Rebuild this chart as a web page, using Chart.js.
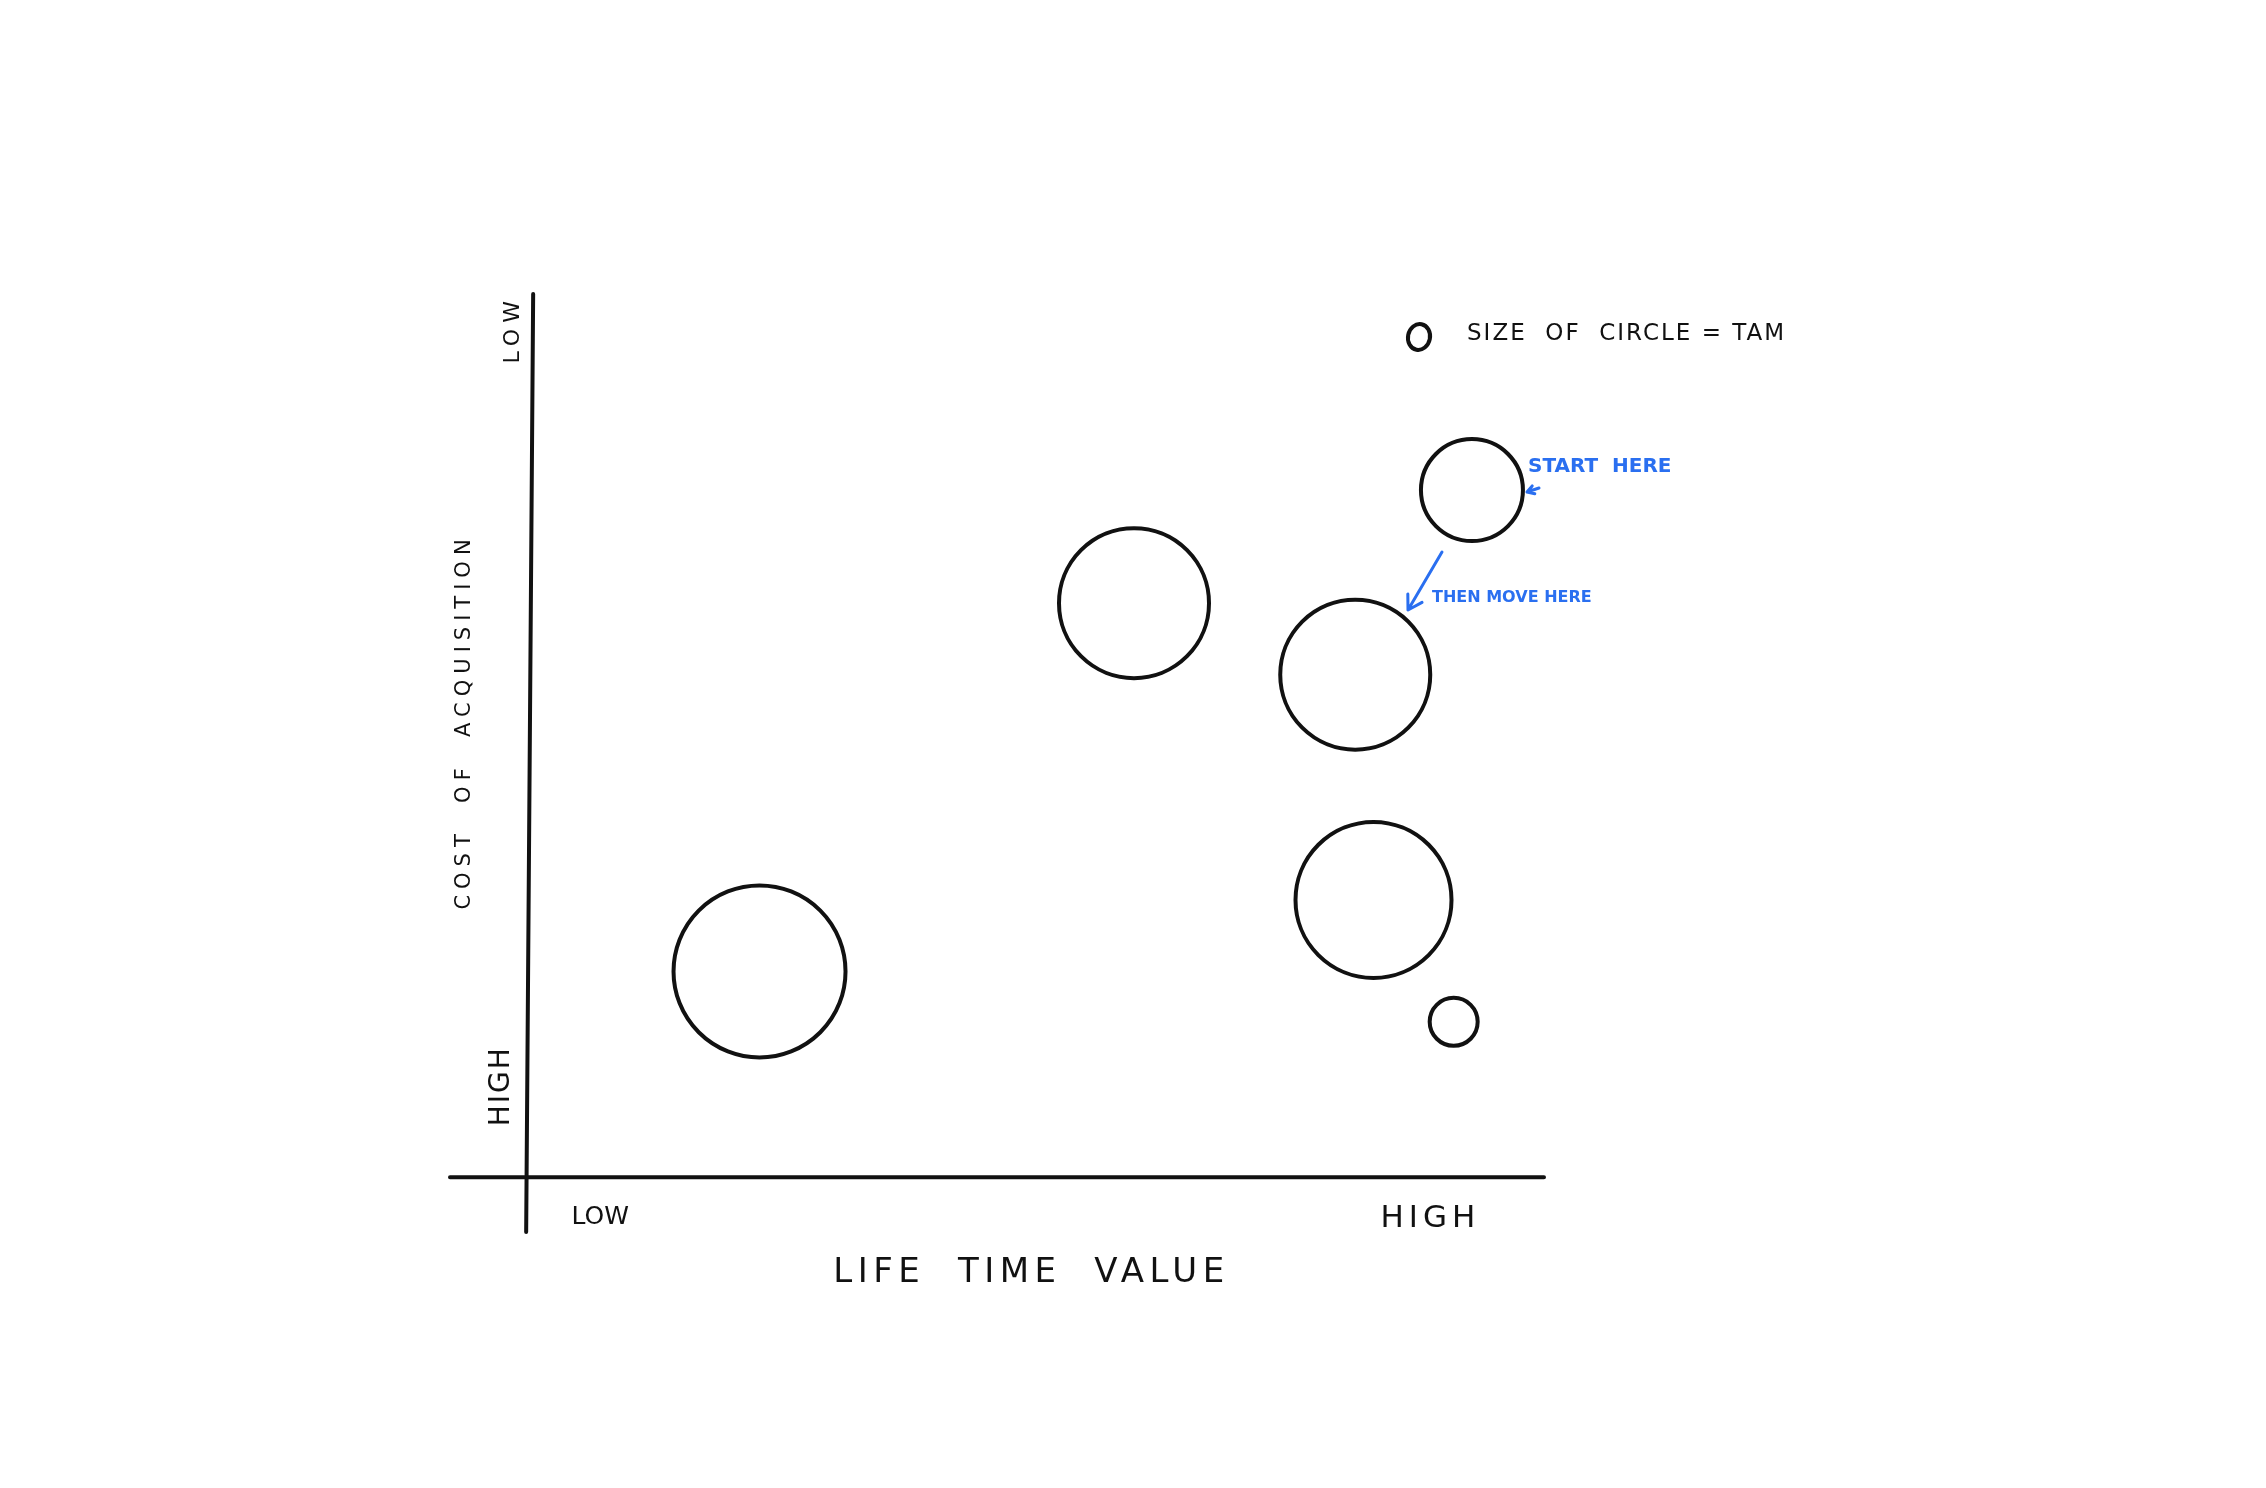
<!DOCTYPE html>
<html>
<head>
<meta charset="utf-8">
<script src="https://cdn.jsdelivr.net/npm/chart.js@4"></script>
<style>
  html, body { margin: 0; padding: 0; background: #fff; }
  #wrap { width: 2266px; height: 1488px; }
</style>
</head>
<body>
<div id="wrap"><canvas id="sketch" width="2266" height="1488"></canvas></div>
<script>
// life time value (x), cost of acquisition score (y, high cost at bottom), TAM as circle size
const ltv = [22.7, 59.6, 81.4, 92.9, 83.2, 91.1];
const cacScore = [23.3, 65.0, 56.9, 77.8, 31.4, 17.6];
const tam = [86, 75, 75, 51, 78, 24];

const xTitle = 'LIFE  TIME  VALUE';
const yTitle = 'COST  OF  ACQUISITION';
const lowLabel = 'LOW';
const highLabel = 'HIGH';
const legendText = 'SIZE  OF  CIRCLE = TAM';
const startText = 'START  HERE';
const moveText = 'THEN MOVE HERE';

const ink = '#111';
const blue = '#2a6ff0';

function txt(ctx, s, x, y, size, opts) {
  opts = opts || {};
  ctx.save();
  ctx.translate(x, y);
  if (opts.rot) ctx.rotate(opts.rot);
  ctx.font = (opts.weight || '500') + ' ' + size + 'px "DejaVu Sans", sans-serif';
  ctx.fillStyle = opts.color || ink;
  ctx.textAlign = opts.align || 'center';
  ctx.textBaseline = 'middle';
  if ('letterSpacing' in ctx) ctx.letterSpacing = (opts.ls || 0) + 'px';
  ctx.fillText(s, 0, 0);
  ctx.restore();
}

function arrow(ctx, x1, y1, x2, y2, head) {
  const a = Math.atan2(y2 - y1, x2 - x1);
  ctx.beginPath();
  ctx.moveTo(x1, y1);
  ctx.lineTo(x2, y2);
  ctx.moveTo(x2 + head * Math.cos(a + 2.6), y2 + head * Math.sin(a + 2.6));
  ctx.lineTo(x2, y2);
  ctx.lineTo(x2 + head * Math.cos(a - 2.6), y2 + head * Math.sin(a - 2.6));
  ctx.stroke();
}

const sketchPlugin = {
  id: 'sketch',
  beforeDatasetsDraw(chart) {
    const ctx = chart.ctx;
    const area = chart.chartArea;
    const xs = chart.scales.x, ys = chart.scales.y;
    const x0 = xs.getPixelForValue(0), y0 = ys.getPixelForValue(0);
    ctx.save();
    ctx.strokeStyle = ink;
    ctx.lineWidth = 4;
    ctx.lineCap = 'round';
    // axes cross a little past the origin, like the drawing
    ctx.beginPath();
    ctx.moveTo(area.left, y0);
    ctx.lineTo(area.right, y0);
    ctx.moveTo(x0 + 4, area.top);
    ctx.lineTo(x0 - 3, area.bottom);
    ctx.stroke();
    ctx.restore();
  },
  afterDatasetsDraw(chart) {
    const ctx = chart.ctx;
    const xs = chart.scales.x, ys = chart.scales.y;
    const x0 = xs.getPixelForValue(0), y0 = ys.getPixelForValue(0);
    const up = -Math.PI / 2;

    // x axis labels
    txt(ctx, lowLabel, x0 + 71, y0 + 40, 25, { ls: 0 });
    txt(ctx, highLabel, xs.getPixelForValue(88.8), y0 + 42, 31, { ls: 5 });
    txt(ctx, xTitle, xs.getPixelForValue(49.5), y0 + 96, 34, { ls: 5.5 });

    // y axis labels (read bottom to top)
    txt(ctx, highLabel, x0 - 27, ys.getPixelForValue(10.3), 28, { rot: up, ls: 2 });
    txt(ctx, lowLabel, x0 - 16, ys.getPixelForValue(96), 22, { rot: up, ls: 6 });
    txt(ctx, yTitle, x0 - 65, ys.getPixelForValue(51.6), 21, { rot: up, ls: 6 });

    // legend: size of circle = TAM
    ctx.save();
    ctx.strokeStyle = ink;
    ctx.lineWidth = 4;
    ctx.beginPath();
    ctx.ellipse(1419, 337, 11, 13, 0.2, 0, Math.PI * 2);
    ctx.stroke();
    ctx.restore();
    txt(ctx, legendText, 1467, 334, 23, { align: 'left', ls: 2 });

    // blue notes
    txt(ctx, startText, 1528, 467, 20, { align: 'left', ls: 0, color: blue, weight: 'bold' });
    txt(ctx, moveText, 1432, 598, 16, { align: 'left', ls: 0, color: blue, weight: 'bold' });
    ctx.save();
    ctx.strokeStyle = blue;
    ctx.lineWidth = 3;
    ctx.lineCap = 'round';
    ctx.lineJoin = 'round';
    arrow(ctx, 1539, 488, 1527, 492, 8);
    arrow(ctx, 1442, 552, 1408, 610, 16);
    ctx.restore();
  }
};

new Chart(document.getElementById('sketch'), {
  type: 'bubble',
  data: {
    datasets: [{
      data: ltv.map((v, i) => ({ x: v, y: cacScore[i], r: tam[i] })),
      backgroundColor: 'rgba(255,255,255,0)',
      borderColor: ink,
      borderWidth: 4,
      hoverBorderWidth: 4,
      clip: false
    }]
  },
  options: {
    responsive: false,
    animation: false,
    events: [],
    layout: { padding: { left: 450, right: 722, top: 294, bottom: 256 } },
    scales: {
      x: { type: 'linear', min: -7.8, max: 100, display: false },
      y: { type: 'linear', min: -6.2, max: 100, display: false }
    },
    plugins: {
      legend: { display: false },
      tooltip: { enabled: false }
    }
  },
  plugins: [sketchPlugin]
});
</script>
</body>
</html>
